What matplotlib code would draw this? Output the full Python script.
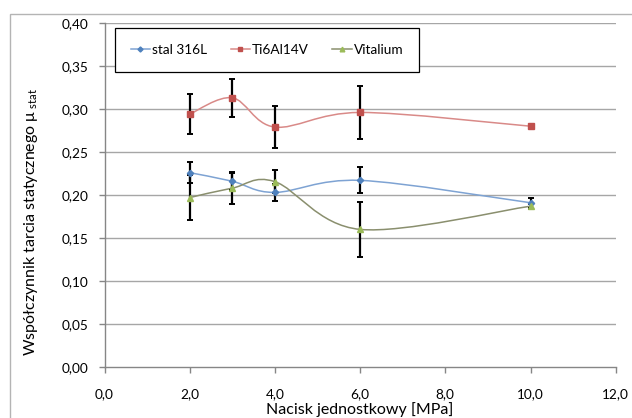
import numpy as np
import matplotlib
matplotlib.use("Agg")
import matplotlib.pyplot as plt
from matplotlib.path import Path
from matplotlib.patches import PathPatch, Rectangle
from matplotlib.lines import Line2D

plt.rcParams['font.family'] = ['Lato', 'DejaVu Sans']
plt.rcParams['mathtext.fontset'] = 'custom'
plt.rcParams['mathtext.rm'] = 'Lato'
plt.rcParams['mathtext.it'] = 'Lato'

# ---- data ----
x_stal = [2, 3, 4, 6, 10]
y_stal = [0.226, 0.216, 0.203, 0.217, 0.191]
e_stal = [0.012, 0.010, 0.010, 0.015, 0.006]

x_ti = [2, 3, 4, 6, 10]
y_ti = [0.294, 0.313, 0.279, 0.296, 0.280]
e_ti = [0.023, 0.022, 0.024, 0.031, 0.0]

x_vit = [2, 3, 4, 6, 10]
y_vit = [0.197, 0.208, 0.2155, 0.160, 0.187]
e_vit = [0.026, 0.019, 0.0135, 0.032, 0.003]

series_names = ['stal 316L', 'Ti6Al14V', 'Vitalium']
xticks = [0, 2, 4, 6, 8, 10, 12]
yticks = [0.0, 0.05, 0.10, 0.15, 0.20, 0.25, 0.30, 0.35, 0.40]

W, H = 632, 418
fig = plt.figure(figsize=(W / 100, H / 100), dpi=100)
ax = fig.add_axes([104.5 / W, 1 - 367 / H, (615.7 - 104.5) / W, (367 - 23) / H])

# outer chart border
fig.patches.append(Rectangle((10 / W, -0.1), 1.2, 1 - 14 / H + 0.1, transform=fig.transFigure,
                             fill=False, edgecolor='#b4b4b4', lw=1.0))


def smooth_path(xs, ys):
    P = np.column_stack([xs, ys]).astype(float)
    n = len(P)
    verts = [P[0]]
    codes = [Path.MOVETO]
    for i in range(n - 1):
        p0 = P[i - 1] if i > 0 else P[i]
        p1 = P[i]
        p2 = P[i + 1]
        p3 = P[i + 2] if i + 2 < n else P[i + 1]
        c1 = p1 + (p2 - p0) / 6.0
        c2 = p2 - (p3 - p1) / 6.0
        verts += [c1, c2, p2]
        codes += [Path.CURVE4] * 3
    return Path(verts, codes)


styles = [
    (x_stal, y_stal, e_stal, '#7ea3d3', '#4f81bd', 'D', 3.2),
    (x_ti, y_ti, e_ti, '#d98a88', '#c0504d', 's', 4.0),
    (x_vit, y_vit, e_vit, '#8a8f6e', '#9bbb59', '^', 4.2),
]

handles = []
for (xs, ys, es, lc, mc, mk, ms), name in zip(styles, series_names):
    ax.add_patch(PathPatch(smooth_path(xs, ys), facecolor='none', edgecolor=lc, lw=1.1, zorder=2))
    xs_a, ys_a, es_a = np.array(xs), np.array(ys), np.array(es)
    m = es_a > 0
    ax.errorbar(xs_a[m], ys_a[m], yerr=es_a[m], fmt='none', ecolor='black', elinewidth=1.6,
                capsize=2.3, capthick=1.4, zorder=3)
    ax.plot(xs, ys, linestyle='none', marker=mk, markersize=ms, color=mc, zorder=4)
    handles.append(Line2D([], [], color=lc, lw=1.1, marker=mk, markersize=ms * 0.8,
                          markerfacecolor=mc, markeredgecolor=mc))

ax.set_xlim(0, 12)
ax.set_ylim(0, 0.40)
ax.set_xticks(xticks)
ax.set_xticklabels([f"{v:.1f}".replace('.', ',') for v in xticks])
ax.set_yticks(yticks)
ax.set_yticklabels([f"{v:.2f}".replace('.', ',') for v in yticks])

for v in yticks[1:]:
    ax.axhline(v, color='#a6a6a6', lw=1.0, zorder=1)

for s in ['top', 'right']:
    ax.spines[s].set_visible(False)
for s in ['left', 'bottom']:
    ax.spines[s].set_color('#868686')
    ax.spines[s].set_linewidth(1.0)
ax.tick_params(axis='both', direction='out', length=4, width=1.0, color='#868686',
               labelsize=9.8, labelcolor='black')
ax.tick_params(axis='y', pad=7.5)
ax.tick_params(axis='x', pad=11)

ax.set_xlabel('Nacisk jednostkowy [MPa]', fontsize=11.5, labelpad=1.5)
fig.text(31 / W, 1 - 222 / H, r'Współczynnik tarcia statycznego μ$_{\mathrm{\ stat}}$',
         rotation=90, ha='center', va='center', fontsize=11.5)

leg = fig.legend(handles, series_names, loc='center',
                 bbox_to_anchor=(267 / W, 1 - 50 / H), ncol=3, fontsize=9.8,
                 frameon=True, fancybox=False, edgecolor='black', framealpha=1,
                 handlelength=1.4, handletextpad=0.15, columnspacing=1.75, borderpad=1.15)
leg.get_frame().set_linewidth(0.9)

fig.savefig('out.png', dpi=100)
